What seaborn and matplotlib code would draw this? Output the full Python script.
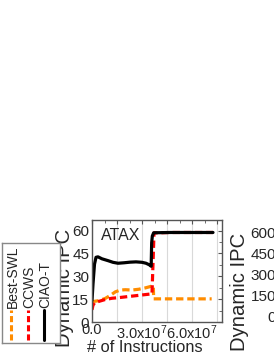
import numpy as np
import pandas as pd
import seaborn as sns
import matplotlib.pyplot as plt
from matplotlib.ticker import MultipleLocator, FuncFormatter

# instructions in units of 1e7, IPC
ciao_x = [0.0, 0.06, 0.15, 0.24, 0.36, 0.6, 0.96, 1.26, 1.56, 1.92, 2.28, 2.64, 3.0, 3.24, 3.45, 3.55, 3.58, 3.62, 3.7, 4.7, 5.9, 7.26]
ciao_y = [14, 25, 38, 42.5, 42.8, 41.5, 40.3, 39.2, 38.6, 38.9, 39.3, 39.5, 39.2, 38.6, 37.5, 36.6, 52, 56.5, 58.6, 58.8, 58.8, 58.8]
ccws_x = [0.0, 0.06, 0.15, 0.4, 0.8, 1.2, 1.6, 2.0, 2.4, 2.8, 3.2, 3.6, 3.68, 3.72, 4.7, 5.9, 7.26]
ccws_y = [8, 11, 12.5, 13.5, 14.8, 15.6, 16.0, 16.5, 17.0, 17.5, 18.0, 18.5, 45, 58.5, 58.8, 58.8, 58.8]
swl_x = [0.0, 0.1, 0.4, 0.8, 1.1, 1.4, 1.7, 2.0, 2.4, 2.8, 3.2, 3.6, 3.68, 3.7, 4.7, 5.9, 7.18]
swl_y = [12.5, 13.5, 14, 15.5, 17.5, 19.8, 21, 21.2, 21.0, 21.5, 22.4, 23.6, 23.8, 15.2, 15.2, 15.2, 15.2]

schemes = ['Best-SWL', 'CCWS', 'CIAO-T']
colors = {'Best-SWL': '#ff8c00', 'CCWS': '#ff0000', 'CIAO-T': '#000000'}

df = pd.concat([
    pd.DataFrame({'instr': np.array(swl_x) * 1e7, 'ipc': swl_y, 'scheme': 'Best-SWL'}),
    pd.DataFrame({'instr': np.array(ccws_x) * 1e7, 'ipc': ccws_y, 'scheme': 'CCWS'}),
    pd.DataFrame({'instr': np.array(ciao_x) * 1e7, 'ipc': ciao_y, 'scheme': 'CIAO-T'}),
])

sns.set_theme(style='white')
plt.rcParams['font.family'] = ['Liberation Sans', 'DejaVu Sans']
plt.rcParams['mathtext.fontset'] = 'custom'
plt.rcParams['mathtext.rm'] = 'Liberation Sans'

W, H = 274, 355
fig = plt.figure(figsize=(W / 100, H / 100), dpi=100)
ax = fig.add_axes([92 / W, 33 / H, 130 / W, 102 / H])

sns.lineplot(data=df, x='instr', y='ipc', hue='scheme', style='scheme',
             hue_order=schemes, style_order=schemes, palette=colors,
             dashes={'Best-SWL': (2.3, 1.2), 'CCWS': (2.3, 1.2), 'CIAO-T': ''},
             linewidth=2.3, estimator=None, sort=False, legend=False, ax=ax)

ax.set_xlim(0, 7.8e7)
ax.set_ylim(0, 67)
ax.xaxis.set_major_locator(MultipleLocator(1.5e7))
ax.xaxis.set_minor_locator(MultipleLocator(7.5e6))
ax.yaxis.set_major_locator(MultipleLocator(15))
ax.yaxis.set_minor_locator(MultipleLocator(7.5))


def xfmt(v, pos):
    k = int(round(v / 1.5e7))
    if k % 2:
        return ''
    if k == 0:
        return '0.0'
    return '%.1fx$\\mathregular{10^{7}}$' % (v / 1e7)


ax.xaxis.set_major_formatter(FuncFormatter(xfmt))
ax.grid(axis='x', which='major', color='#d9d9d9', linewidth=0.8)
ax.tick_params(which='both', direction='in', top=True, right=True, color='#555555')
ax.tick_params(which='major', length=3, width=0.8)
ax.tick_params(which='minor', length=2, width=0.6)
ax.tick_params(axis='x', labelsize=10.5, pad=1)
ax.tick_params(axis='y', labelsize=11, pad=2)
for s in ax.spines.values():
    s.set_color('#555555')
    s.set_linewidth(1)

ax.set_xlabel('# of Instructions', fontsize=11.8)
ax.xaxis.set_label_coords(145 / W, (H - 340) / H, transform=fig.transFigure)
ax.set_ylabel('Dynamic IPC', fontsize=14.6)
ax.yaxis.set_label_coords(74 / W, (H - 287.5) / H, transform=fig.transFigure)
ax.text(0.067, 0.804, 'ATAX', transform=ax.transAxes, fontsize=11.5, va='baseline')

# neighbouring panel, mostly off the picture
ax2 = fig.add_axes([279 / W, 39 / H, 0.3, 90 / H])
ax2.set_ylim(0, 650)
ax2.set_yticks([0, 150, 300, 450, 600])
ax2.set_xticks([])
ax2.tick_params(axis='y', direction='in', labelsize=11, pad=2, length=3, color='#555555')
ax2.set_ylabel('Dynamic IPC', fontsize=14.6)
ax2.yaxis.set_label_coords(249 / W, (H - 292) / H, transform=fig.transFigure)

# legend, turned on its side
lax = fig.add_axes([2 / W, 12 / H, 58 / W, 100 / H])
lax.set_xlim(0, 58)
lax.set_ylim(0, 100)
lax.set_xticks([])
lax.set_yticks([])
for s in lax.spines.values():
    s.set_color('#888888')
    s.set_linewidth(1)
for name, xp in zip(schemes, [9.5, 26, 42.5]):
    ls = '-' if name == 'CIAO-T' else (0, (2, 1))
    lax.plot([xp, xp], [3, 33], color=colors[name], linewidth=2.2, linestyle=ls)
    lax.text(xp + 1, 35, name, rotation=90, ha='center', va='bottom', fontsize=10)

fig.savefig('out.png', dpi=100)
